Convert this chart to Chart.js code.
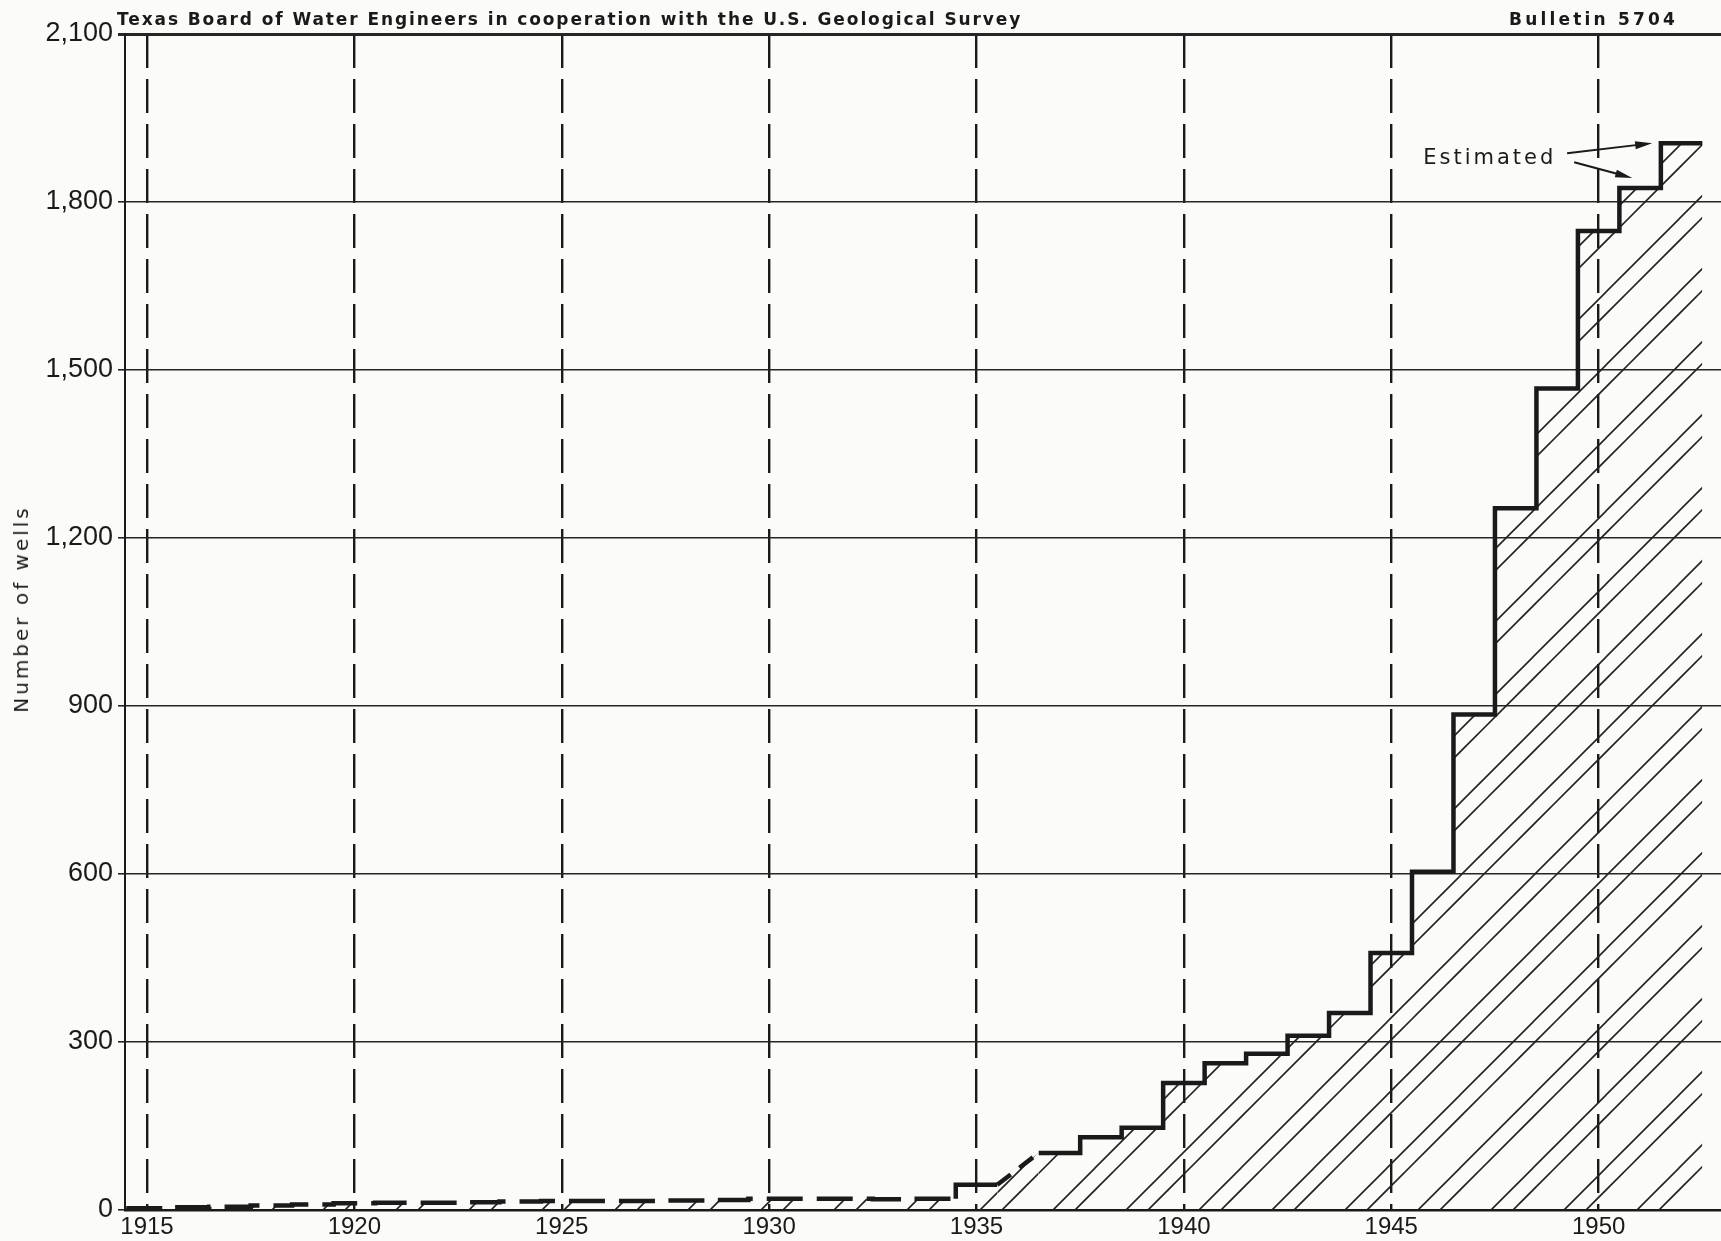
<!DOCTYPE html>
<html>
<head>
<meta charset="utf-8">
<script src="https://cdn.jsdelivr.net/npm/chart.js@4.4.0/dist/chart.umd.min.js"></script>
<style>
  body { margin: 0; background: #fbfbf9; }
  #wrap { position: relative; width: 1721px; height: 1241px; overflow: hidden; }
  .hdr { position: absolute; top: 9px; font: bold 17px "DejaVu Sans", sans-serif; letter-spacing: 1.9px; color: #1a1a1a; white-space: nowrap; }
  #ytitle { position: absolute; left: 21px; top: 609px; transform: translate(-50%, -50%) rotate(-90deg);
            font: 20px "DejaVu Sans", sans-serif; letter-spacing: 3px; color: #1a1a1a; white-space: nowrap; }
</style>
</head>
<body>
<div id="wrap">
  <canvas id="wellsChart"></canvas>
  <div class="hdr" style="left:117px">Texas Board of Water Engineers in cooperation with the U.S. Geological Survey</div>
  <div class="hdr" style="left:1509px; letter-spacing:3.2px">Bulletin 5704</div>
  <div id="ytitle">Number of wells</div>
</div>
<script>
// Cumulative number of wells, one value per year (1936 is the dashed transition)
const years = [1915, 1916, 1917, 1918, 1919, 1920, 1921, 1922, 1923, 1924,
               1925, 1926, 1927, 1928, 1929, 1930, 1931, 1932, 1933, 1934,
               1935, 1936, 1937, 1938, 1939, 1940, 1941, 1942, 1943, 1944,
               1945, 1946, 1947, 1948, 1949, 1950, 1951, 1952];
const wells = [3, 5, 6, 8, 10, 12, 13, 13, 14, 15,
               16, 16, 16, 17, 18, 20, 20, 20, 19, 20,
               45, null, 102, 130, 147, 227, 262, 279, 311, 352,
               459, 604, 885, 1253, 1467, 1748, 1825, 1905];
const xTicks = [1915, 1920, 1925, 1930, 1935, 1940, 1945, 1950];
const yTicks = [0, 300, 600, 900, 1200, 1500, 1800, 2100];
const yTickLabels = ['0', '300', '600', '900', '1,200', '1,500', '1,800', '2,100'];

// each year is a flat step from year-0.5 to year+0.5
const steps = [];
years.forEach((yr, i) => {
  if (wells[i] == null) return;
  steps.push({ x: yr - 0.5, y: wells[i] }, { x: yr + 0.5, y: wells[i] });
});

function hatch() {
  const P = 73;
  const c = document.createElement('canvas');
  c.width = P; c.height = P;
  const g = c.getContext('2d');
  g.strokeStyle = '#222';
  g.lineWidth = 1.6;
  [0, 22].forEach(o => {
    for (let k = -1; k <= 1; k++) {
      const s = o + k * P;
      g.beginPath();
      g.moveTo(s - 1, P + 1);
      g.lineTo(s + P + 1, -1);
      g.stroke();
    }
  });
  return g.createPattern(c, 'repeat');
}

const ink = '#1a1a1a';

const estimatedNote = {
  id: 'estimatedNote',
  afterDatasetsDraw(chart) {
    const { ctx, scales: { x, y } } = chart;
    ctx.save();
    ctx.fillStyle = ink;
    ctx.strokeStyle = ink;
    ctx.font = '21px "DejaVu Sans", sans-serif';
    ctx.letterSpacing = '3px';
    ctx.textAlign = 'right';
    ctx.textBaseline = 'middle';
    ctx.fillText('Estimated', x.getPixelForValue(1948.98), y.getPixelForValue(1878));
    const arrows = [[1949.24, 1887, 1951.29, 1905], [1949.41, 1871, 1950.81, 1843]];
    ctx.lineWidth = 2;
    arrows.forEach(a => {
      const x0 = x.getPixelForValue(a[0]), y0 = y.getPixelForValue(a[1]);
      const x1 = x.getPixelForValue(a[2]), y1 = y.getPixelForValue(a[3]);
      const ang = Math.atan2(y1 - y0, x1 - x0);
      ctx.beginPath();
      ctx.moveTo(x0, y0);
      ctx.lineTo(x1 - 10 * Math.cos(ang), y1 - 10 * Math.sin(ang));
      ctx.stroke();
      ctx.beginPath();
      ctx.moveTo(x1, y1);
      ctx.lineTo(x1 - 17 * Math.cos(ang) + 4 * Math.sin(ang), y1 - 17 * Math.sin(ang) - 4 * Math.cos(ang));
      ctx.lineTo(x1 - 17 * Math.cos(ang) - 4 * Math.sin(ang), y1 - 17 * Math.sin(ang) + 4 * Math.cos(ang));
      ctx.closePath();
      ctx.fill();
    });
    ctx.restore();
  }
};

new Chart(document.getElementById('wellsChart'), {
  type: 'line',
  data: {
    datasets: [{
      data: steps,
      borderColor: ink,
      borderWidth: 4.5,
      backgroundColor: hatch(),
      fill: 'origin',
      pointRadius: 0,
      tension: 0,
      segment: {
        borderDash: c => {
          if (c.p0.parsed.x < 1934.5) return [36, 14];
          if (c.p0.parsed.x !== c.p1.parsed.x && c.p0.parsed.y !== c.p1.parsed.y) return [17, 11];
          return undefined;
        }
      }
    }]
  },
  plugins: [estimatedNote],
  options: {
    responsive: true,
    maintainAspectRatio: false,
    animation: false,
    layout: { padding: { top: 34, left: 0, right: 0, bottom: 0 } },
    plugins: { legend: { display: false }, tooltip: { enabled: false } },
    scales: {
      x: {
        type: 'linear',
        min: 1914.47,
        max: 1952.95,
        afterBuildTicks: s => { s.ticks = xTicks.map(v => ({ value: v })); },
        afterFit: s => { s.height = 31; },
        grid: { color: ink, lineWidth: 2.4, drawTicks: false },
        border: { display: true, color: ink, width: 2.4, dash: [34, 11] },
        ticks: {
          color: ink, padding: 3, autoSkip: false, maxRotation: 0,
          font: { family: 'Liberation Sans', size: 24 },
          callback: v => String(v)
        }
      },
      y: {
        min: 0,
        max: 2100,
        afterBuildTicks: s => { s.ticks = yTicks.map(v => ({ value: v })); },
        afterFit: s => { s.width = 125; },
        grid: {
          color: '#262626',
          lineWidth: c => (c.tick && c.tick.value === 2100 ? 3 : 1.6),
          tickLength: 7
        },
        border: { color: ink, width: 2 },
        ticks: {
          color: ink, padding: 5,
          font: { family: 'Liberation Sans', size: 27 },
          callback: (v, i) => yTickLabels[i]
        }
      }
    }
  }
});
</script>
</body>
</html>
